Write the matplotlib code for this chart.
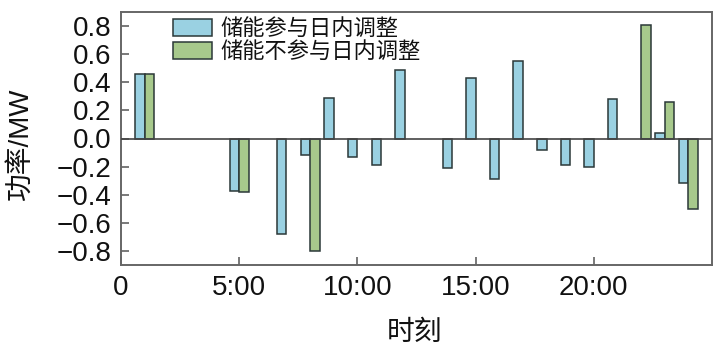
import matplotlib
matplotlib.use("Agg")
import matplotlib.pyplot as plt
import numpy as np

plt.rcParams['font.family'] = ['Liberation Sans', 'Noto Sans CJK SC', 'DejaVu Sans']
plt.rcParams['axes.unicode_minus'] = True

hours = list(range(1, 25))
with_storage = [0.46, 0, 0, 0, -0.37, 0, -0.68, -0.12, 0.29, -0.13, -0.19, 0.49,
                0, -0.21, 0.43, -0.29, 0.55, -0.08, -0.19, -0.20, 0.28, 0, 0.04, -0.32]
without_storage = [0.46, 0, 0, 0, -0.38, 0, 0, -0.80, 0, 0, 0, 0,
                   0, 0, 0, 0, 0, 0, 0, 0, 0, 0.81, 0.26, -0.50]
series_names = ['储能参与日内调整', '储能不参与日内调整']
xticks = [0, 5, 10, 15, 20]
xtick_labels = ['0', '5:00', '10:00', '15:00', '20:00']
yticks = [-0.8, -0.6, -0.4, -0.2, 0.0, 0.2, 0.4, 0.6, 0.8]

fig = plt.figure(figsize=(7.21, 3.51), dpi=100)
ax = fig.add_axes([121/721, 1-265/351, (712-121)/721, (265-12)/351])

x = np.array(hours, dtype=float)
w = 0.4
edge = '#2b3838'
blue = '#9ad1e2'
green = '#a7c98c'

h = np.array(with_storage)
g = np.array(without_storage)
ax.bar(x[h != 0] - w/2, h[h != 0], width=w, color=blue, edgecolor=edge, linewidth=1.1,
       label=series_names[0], zorder=3)
ax.bar(x[g != 0] + w/2, g[g != 0], width=w, color=green, edgecolor=edge, linewidth=1.1,
       label=series_names[1], zorder=3)
ax.axhline(0, color='#444444', linewidth=1.2, zorder=4)

ax.set_xlim(0, 25)
ax.set_ylim(-0.9, 0.9)
ax.set_xticks(xticks)
ax.set_xticklabels(xtick_labels)
ax.set_yticks(yticks)
ax.set_yticklabels([f'{v:.1f}'.replace('-', '\u2212') for v in yticks])
ax.tick_params(direction='in', length=6, width=1.1, color='#555555',
               labelsize=20, pad=7, labelcolor='#111111')
for s in ax.spines.values():
    s.set_color('#666666')
    s.set_linewidth(1.4)

ax.set_ylabel('功率/MW', fontsize=20, color='#111111')
ax.yaxis.set_label_coords(-0.147, 0.48)
ax.set_xlabel('时刻', fontsize=20, color='#111111',
              family=['Noto Sans CJK SC', 'DejaVu Sans'])
ax.xaxis.set_label_coords(0.497, -0.205)

leg = ax.legend(loc='upper left', bbox_to_anchor=(0.088, 0.98), frameon=False,
                prop={'family': 'Noto Sans CJK SC', 'size': 16},
                handlelength=1.75, handleheight=0.8, handletextpad=0.4,
                labelspacing=0.0, borderpad=0.0, borderaxespad=0.0)
for t in leg.get_texts():
    t.set_color('#111111')

fig.savefig('out.png', dpi=100)
